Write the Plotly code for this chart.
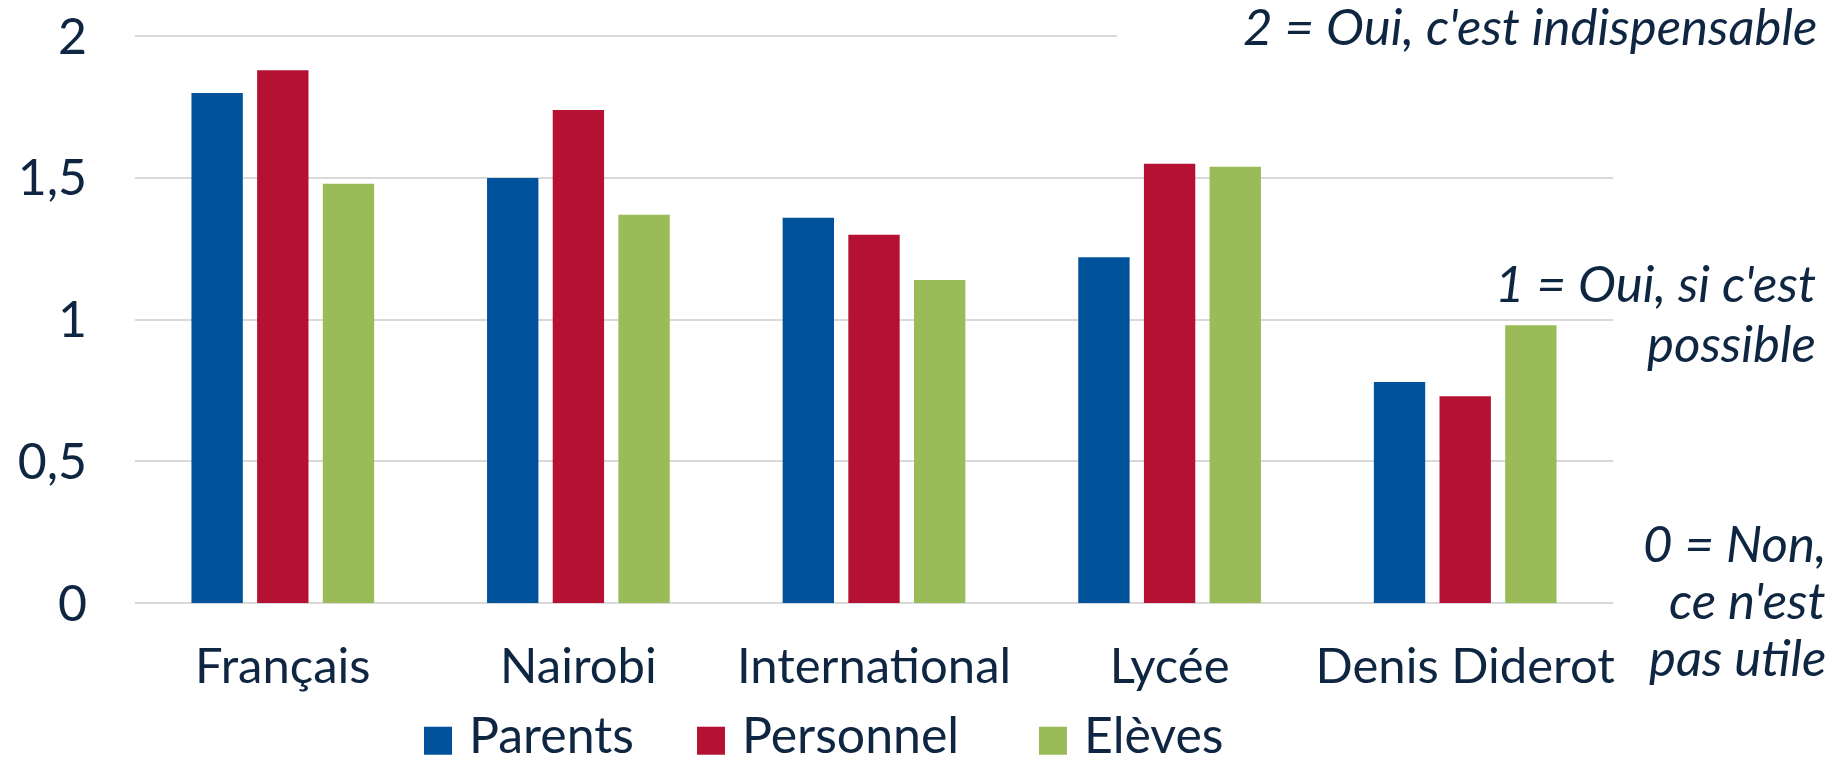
import plotly.graph_objects as go

# ---- data ----
categories = ["Français", "Nairobi", "International", "Lycée", "Denis Diderot"]
series_names = ["Parents", "Personnel", "Elèves"]
parents = [1.80, 1.50, 1.36, 1.22, 0.78]
personnel = [1.88, 1.74, 1.30, 1.55, 0.73]
eleves = [1.48, 1.37, 1.14, 1.54, 0.98]
series_values = [parents, personnel, eleves]

scale_top = "2 = Oui, c'est indispensable"
scale_mid = ["1 = Oui, si c'est", "possible"]
scale_low = ["0 = Non,", "ce n'est", "pas utile"]

# ---- style ----
colors = ["#00529B", "#B51233", "#9BBB59"]
text_color = "#0F2642"
grid_color = "#D9D9D9"
font_family = "Lato, 'Open Sans', sans-serif"

OFF = 8  # page body margin
W, H = 1845 - OFF, 765 - OFF
# plot area (screenshot pixels)
X_LEFT, X_RIGHT = 135, 1613
Y_TOP, Y_ZERO, Y_TWO = 16.4, 603.3, 36.7
PX_PER_UNIT = (Y_ZERO - Y_TWO) / 2
YMAX = (Y_ZERO - Y_TOP) / PX_PER_UNIT

L, R = X_LEFT - OFF, X_RIGHT - OFF
T, B = Y_TOP - OFF, Y_ZERO - OFF
PW, PH = R - L, B - T


def px2x(px):
    return (px - OFF - L) / PW


def py2y(py):
    return 1 - (py - OFF - T) / PH


fig = go.Figure()
for name, vals, col in zip(series_names, series_values, colors):
    fig.add_trace(go.Bar(x=categories, y=vals, name=name, marker_color=col,
                         marker_line_width=0, showlegend=False))

fig.update_layout(
    width=W, height=H,
    margin=dict(l=L, r=W - R, t=T, b=H - B, autoexpand=False),
    paper_bgcolor="white", plot_bgcolor="white",
    barmode="group", bargap=0.3335, bargroupgap=0.218,
    separators=", ",
    font=dict(family=font_family, color=text_color),
)
fig.update_xaxes(
    showgrid=False, showline=False, zeroline=False, ticks="",
    tickfont=dict(size=49, color=text_color, family=font_family),
    ticklabelstandoff=30,
)
fig.update_yaxes(
    range=[0, YMAX], dtick=0.5, tick0=0,
    showgrid=True, gridcolor=grid_color, gridwidth=2,
    zeroline=True, zerolinecolor=grid_color, zerolinewidth=2,
    showline=False, ticks="", ticklabeloverflow="allow",
    tickfont=dict(size=50, color=text_color, family=font_family),
    ticklabelstandoff=47,
)

# white strip: the top gridline stops where the scale note begins
fig.add_shape(type="rect", xref="paper", yref="paper",
              x0=px2x(1117), x1=px2x(1620), y0=py2y(42), y1=py2y(31),
              fillcolor="white", line_width=0, layer="above")


def add_line(text, right_px, baseline_px, fs=51):
    fig.add_annotation(
        text="<i>" + text + "</i>", xref="paper", yref="paper",
        x=px2x(right_px), y=py2y(baseline_px - 0.387 * fs),
        xanchor="right", yanchor="middle", showarrow=False,
        font=dict(size=fs, color=text_color, family=font_family),
        borderpad=0)


add_line(scale_top, 1818, 46)
for txt, bl in zip(scale_mid, [303, 363]):
    add_line(txt, 1817, bl)
for txt, bl in zip(scale_low, [563, 620, 677]):
    add_line(txt, 1827, bl)

# custom legend (large squares like the original)
legend_square_px = [424, 697, 1039]
sq = 28
leg_top = 727
leg_fs = 50
leg_baseline = 754
for name, col, x0 in zip(series_names, colors, legend_square_px):
    fig.add_shape(type="rect", xref="paper", yref="paper",
                  x0=px2x(x0), x1=px2x(x0 + sq),
                  y0=py2y(leg_top + sq), y1=py2y(leg_top),
                  fillcolor=col, line_width=0, layer="above")
    fig.add_annotation(text=name, xref="paper", yref="paper",
                       x=px2x(x0 + sq + 16), y=py2y(leg_baseline - 0.387 * leg_fs),
                       xanchor="left", yanchor="middle", showarrow=False,
                       font=dict(size=leg_fs, color=text_color, family=font_family),
                       borderpad=0)

fig.write_html("out.html")
